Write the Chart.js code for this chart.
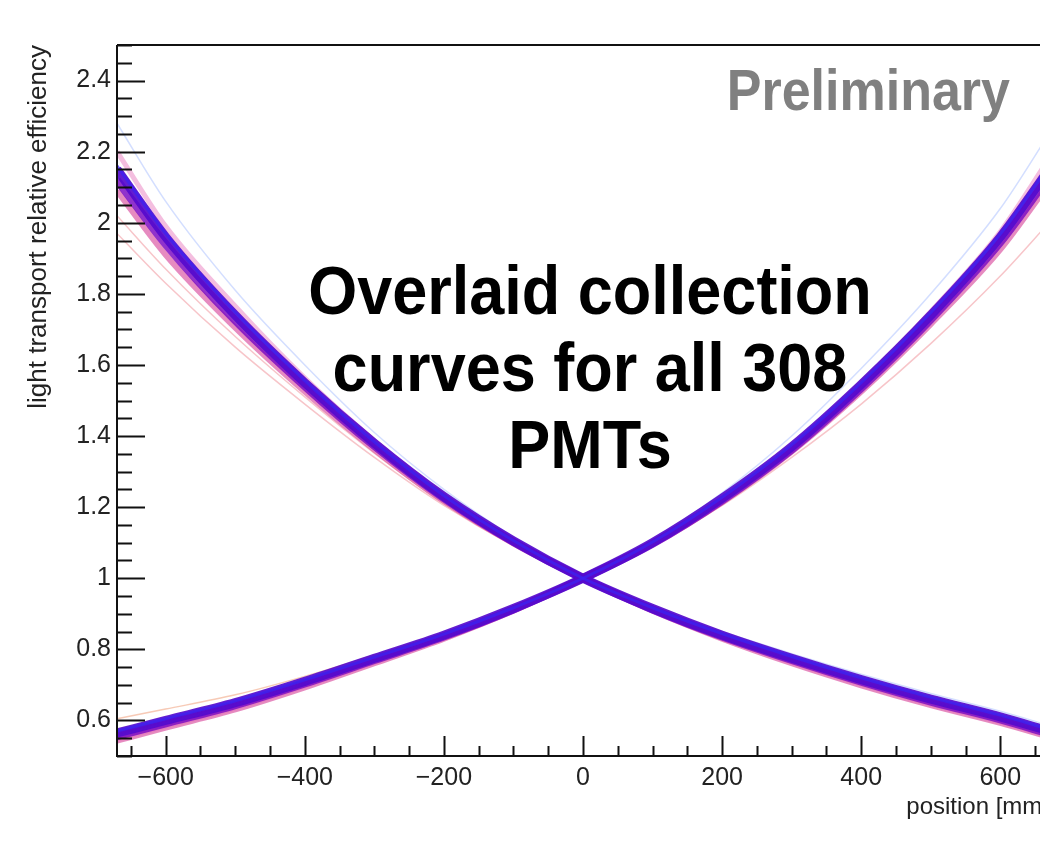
<!DOCTYPE html>
<html>
<head>
<meta charset="utf-8">
<script src="https://cdn.jsdelivr.net/npm/chart.js@4.4.0/dist/chart.umd.min.js"></script>
<style>
html, body { margin: 0; padding: 0; background: #fff; overflow: hidden; }
#wrap { position: absolute; left: 0; top: 0; width: 1100px; height: 859px; }
</style>
</head>
<body>
<div id="wrap"><canvas id="eff-chart" width="1100" height="859"></canvas></div>
<script>
// sample positions along the bar [mm]
const positions = [-670, -600, -500, -400, -300, -200, -100, 0, 100, 200, 300, 400, 500, 600, 670];

// curves falling with position
const fallCore      = [2.15, 1.96, 1.74, 1.55, 1.38, 1.23, 1.105, 1.0, 0.915, 0.84, 0.775, 0.715, 0.66, 0.61, 0.57];
const fallBlue      = [2.16, 1.97, 1.748, 1.556, 1.384, 1.233, 1.106, 1.0, 0.917, 0.844, 0.78, 0.72, 0.665, 0.615, 0.575];
const fallViolet    = [2.12, 1.94, 1.725, 1.54, 1.372, 1.225, 1.102, 1.0, 0.912, 0.836, 0.77, 0.709, 0.653, 0.603, 0.563];
const fallPink      = [2.2, 1.99, 1.765, 1.563, 1.387, 1.233, 1.105, 1.0, 0.91, 0.832, 0.764, 0.702, 0.646, 0.596, 0.557];
const fallPinkLow   = [2.09, 1.91, 1.705, 1.525, 1.362, 1.217, 1.098, 1.0, 0.909, 0.83, 0.761, 0.699, 0.643, 0.593, 0.554];
const fallFaintRed  = [1.97, 1.83, 1.65, 1.49, 1.34, 1.205, 1.092, 1.0, 0.912, 0.835, 0.768, 0.706, 0.65, 0.6, 0.56];
const fallFaintRed2 = [2.02, 1.87, 1.68, 1.51, 1.352, 1.21, 1.094, 1.0, 0.913, 0.837, 0.771, 0.71, 0.655, 0.605, 0.565];
const fallFaintBlue = [2.28, 2.06, 1.81, 1.6, 1.41, 1.25, 1.115, 1.0, 0.92, 0.85, 0.788, 0.73, 0.676, 0.626, 0.586];

// curves rising with position
const riseCore      = [0.565, 0.60, 0.65, 0.71, 0.775, 0.84, 0.915, 1.0, 1.1, 1.225, 1.37, 1.545, 1.74, 1.96, 2.15];
const riseBlue      = [0.57, 0.605, 0.655, 0.714, 0.778, 0.843, 0.917, 1.0, 1.102, 1.228, 1.375, 1.55, 1.747, 1.968, 2.16];
const riseViolet    = [0.556, 0.592, 0.643, 0.704, 0.77, 0.836, 0.912, 1.0, 1.097, 1.219, 1.362, 1.535, 1.728, 1.945, 2.13];
const risePink      = [0.547, 0.584, 0.635, 0.697, 0.764, 0.832, 0.91, 1.0, 1.098, 1.223, 1.37, 1.55, 1.75, 1.975, 2.18];
const risePinkLow   = [0.543, 0.58, 0.631, 0.693, 0.761, 0.83, 0.909, 1.0, 1.095, 1.214, 1.356, 1.525, 1.715, 1.925, 2.11];
const riseFaintOrange = [0.605, 0.632, 0.672, 0.724, 0.784, 0.846, 0.918, 1.0, 1.1, 1.225, 1.37, 1.545, 1.74, 1.96, 2.15];
const riseFaintRed  = [0.56, 0.597, 0.647, 0.707, 0.772, 0.838, 0.913, 1.0, 1.092, 1.205, 1.34, 1.49, 1.66, 1.85, 2.0];
const riseFaintBlue = [0.57, 0.605, 0.655, 0.714, 0.778, 0.843, 0.917, 1.0, 1.108, 1.24, 1.4, 1.59, 1.8, 2.04, 2.25];

const xTicks = [-600, -400, -200, 0, 200, 400, 600];
const yTicks = [0.6, 0.8, 1, 1.2, 1.4, 1.6, 1.8, 2, 2.2, 2.4];
const titleLines = ['Overlaid collection', 'curves for all 308', 'PMTs'];

const styles = {
  faintBlue:   { color: 'rgba(130, 160, 255, 0.35)', width: 1.5 },
  faintRed:    { color: 'rgba(235, 110, 120, 0.40)', width: 1.5 },
  faintOrange: { color: 'rgba(240, 150, 110, 0.50)', width: 1.5 },
  pinkLow:     { color: 'rgba(220, 90, 165, 0.70)', width: 6 },
  pink:        { color: 'rgba(230, 110, 185, 0.45)', width: 5 },
  violet:      { color: 'rgba(125, 15, 195, 0.85)', width: 8 },
  core:        { color: 'rgba(85, 10, 205, 0.92)', width: 9 },
  blue:        { color: 'rgba(60, 35, 240, 0.75)', width: 3 }
};

// Chart.js paints dataset 0 last, so the dense core goes first
const series = [
  [fallBlue, 'blue'], [riseBlue, 'blue'],
  [fallCore, 'core'], [riseCore, 'core'],
  [fallViolet, 'violet'], [riseViolet, 'violet'],
  [fallPink, 'pink'], [risePink, 'pink'],
  [fallPinkLow, 'pinkLow'], [risePinkLow, 'pinkLow'],
  [riseFaintOrange, 'faintOrange'],
  [fallFaintRed, 'faintRed'], [fallFaintRed2, 'faintRed'], [riseFaintRed, 'faintRed'],
  [fallFaintBlue, 'faintBlue'], [riseFaintBlue, 'faintBlue']
];

const datasets = series.map(([vals, key]) => ({
  data: positions.map((p, i) => ({ x: p, y: vals[i] })),
  borderColor: styles[key].color,
  borderWidth: styles[key].width,
  pointRadius: 0,
  fill: false,
  cubicInterpolationMode: 'monotone'
}));

// ROOT-like frame with inward ticks
const frame = {
  id: 'frame',
  afterDatasetsDraw(chart) {
    const { ctx, chartArea: a, scales: { x, y } } = chart;
    ctx.save();
    ctx.strokeStyle = '#111';
    ctx.lineWidth = 2;
    ctx.beginPath();
    ctx.moveTo(a.left, a.top); ctx.lineTo(a.right, a.top); ctx.lineTo(a.right, a.bottom);
    ctx.moveTo(a.left, a.top); ctx.lineTo(a.left, a.bottom); ctx.lineTo(a.right, a.bottom);
    for (let k = 10; k <= 50; k++) {
      const py = Math.round(y.getPixelForValue(k * 0.05)) + 0.5;
      const len = k % 4 === 0 ? 28 : 15;
      ctx.moveTo(a.left, py); ctx.lineTo(a.left + len, py);
    }
    for (let k = -13; k <= 13; k++) {
      const px = Math.round(x.getPixelForValue(k * 50)) + 0.5;
      const len = k % 4 === 0 ? 20 : 10;
      ctx.moveTo(px, a.bottom); ctx.lineTo(px, a.bottom - len);
    }
    ctx.stroke();
    ctx.restore();
  }
};

function tallText(ctx, text, x, y, font, color, align) {
  ctx.save();
  ctx.translate(x, y);
  ctx.scale(1, 1.1);
  ctx.font = font;
  ctx.fillStyle = color;
  ctx.textAlign = align;
  ctx.textBaseline = 'alphabetic';
  ctx.fillText(text, 0, 0);
  ctx.restore();
}

const notes = {
  id: 'notes',
  afterDraw(chart) {
    const ctx = chart.ctx;
    tallText(ctx, 'Preliminary', 1010, 110, 'bold 52px "Liberation Sans"', '#808080', 'right');
    titleLines.forEach((t, i) => {
      tallText(ctx, t, 590, 314 + i * 77, 'bold 63px "Liberation Sans"', '#000', 'center');
    });
  }
};

const tickFont = { family: '"Liberation Sans", Arial, sans-serif', size: 25 };

new Chart(document.getElementById('eff-chart'), {
  type: 'line',
  data: { datasets: datasets },
  options: {
    responsive: false,
    animation: false,
    devicePixelRatio: 1,
    layout: { padding: { top: 45, right: 51, left: 0, bottom: 0 } },
    plugins: { legend: { display: false }, tooltip: { enabled: false } },
    scales: {
      x: {
        type: 'linear',
        min: -670,
        max: 670,
        grid: { display: false, drawTicks: false },
        border: { display: false },
        afterBuildTicks: s => { s.ticks = xTicks.map(v => ({ value: v })); },
        afterFit: s => { s.height = 103; },
        ticks: {
          color: '#222',
          font: tickFont,
          padding: 7,
          maxRotation: 0,
          autoSkip: false,
          callback: v => (v < 0 ? '\u2212' + Math.abs(v) : String(v))
        },
        title: {
          display: true,
          text: 'position [mm]',
          align: 'end',
          color: '#222',
          font: { family: '"Liberation Sans", Arial, sans-serif', size: 24 },
          padding: { top: 0, bottom: 37 }
        }
      },
      y: {
        type: 'linear',
        min: 0.5,
        max: 2.5,
        grid: { display: false, drawTicks: false },
        border: { display: false },
        afterBuildTicks: s => { s.ticks = yTicks.map(v => ({ value: v })); },
        afterFit: s => { s.width = 117; },
        ticks: {
          color: '#222',
          font: tickFont,
          padding: 6,
          autoSkip: false,
          callback: v => String(v)
        },
        title: {
          display: true,
          text: 'light transport relative efficiency',
          align: 'end',
          color: '#222',
          font: { family: '"Liberation Sans", Arial, sans-serif', size: 26 },
          padding: { top: 23, bottom: 0 }
        }
      }
    }
  },
  plugins: [frame, notes]
});
</script>
</body>
</html>
